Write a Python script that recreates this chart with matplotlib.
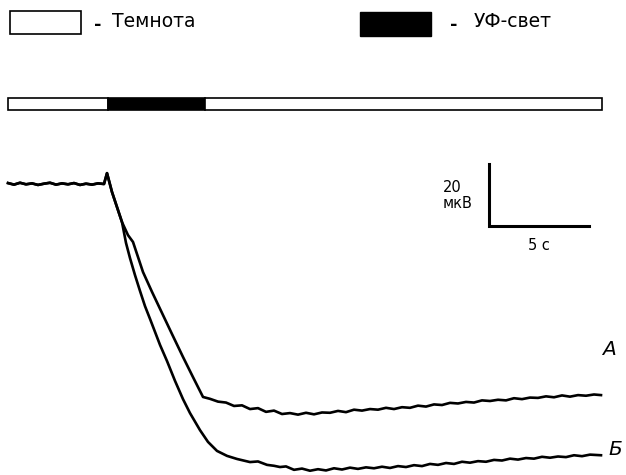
import matplotlib
matplotlib.use("Agg")
import matplotlib.pyplot as plt
from matplotlib.patches import Rectangle

plt.rcParams['font.family'] = ['DejaVu Sans']

# baseline before the light goes on (shared by both traces), t in s, value in мкВ
base_t = [0.0, 0.3, 0.6, 0.9, 1.2, 1.5, 1.8, 2.1, 2.4, 2.7, 3.0, 3.3, 3.6, 3.9, 4.2, 4.5, 4.8,
          4.95, 5.2, 5.7]
base_uv = [0.3, -0.2, 0.4, -0.1, 0.2, -0.3, 0.1, 0.4, -0.2, 0.2, -0.1, 0.3, -0.3, 0.1, -0.2, 0.2, 0.0,
           3.5, -2.6, -12.3]

# trace A after the split
a_t = [6.0, 6.25, 6.75, 7.2, 7.7, 8.2, 8.75, 9.25, 9.75,
       10.1, 10.5, 10.9, 11.3, 11.7, 12.1, 12.5, 12.9, 13.3, 13.7, 14.1, 14.5, 14.9, 15.3,
       15.7, 16.1, 16.5, 16.9, 17.3, 17.7, 18.1, 18.5, 18.9, 19.3, 19.7, 20.1, 20.5, 20.9,
       21.3, 21.7, 22.1, 22.5, 22.9, 23.3, 23.7, 24.1, 24.5, 24.9, 25.3, 25.7, 26.1, 26.5,
       26.9, 27.3, 27.7, 28.1, 28.5, 28.9, 29.3, 29.65]
a_uv = [-16.5, -18.7, -28.4, -34.8, -41.6, -48.4, -55.8, -62.3, -68.7,
        -69.3, -70.2, -70.5, -71.6, -71.4, -72.6, -72.3, -73.5, -73.1, -74.2, -73.9, -74.4, -73.8, -74.3,
        -73.7, -73.8, -73.2, -73.6, -72.8, -73.1, -72.6, -72.8, -72.2, -72.6, -72.0, -72.2, -71.5, -71.8,
        -71.1, -71.3, -70.6, -70.8, -70.3, -70.5, -69.8, -70.0, -69.6, -69.8, -69.1, -69.4, -68.9, -69.0,
        -68.5, -68.8, -68.2, -68.6, -68.1, -68.3, -67.9, -68.1]

# trace Б after the split
b_t = [5.9, 6.1, 6.35, 6.6, 6.85, 7.1, 7.35, 7.6, 7.95, 8.35, 8.75, 9.1, 9.6, 10.0, 10.45,
       10.95, 11.45, 12.1, 12.5, 12.95, 13.3, 13.6, 13.9, 14.3, 14.7, 15.1, 15.5, 15.9, 16.3,
       16.7, 17.1, 17.5, 17.9, 18.3, 18.7, 19.1, 19.5, 19.9, 20.3, 20.7, 21.1, 21.5, 21.9,
       22.3, 22.7, 23.1, 23.5, 23.9, 24.3, 24.7, 25.1, 25.5, 25.9, 26.3, 26.7, 27.1, 27.5,
       27.9, 28.3, 28.7, 29.1, 29.65]
b_uv = [-19.0, -23.9, -29.4, -34.5, -39.4, -43.5, -47.7, -51.9, -57.1, -63.5, -69.4, -73.9, -79.4,
        -83.2, -86.1, -87.7, -88.7, -89.7, -89.5, -90.6, -90.9, -91.3, -91.1, -92.2, -91.8, -92.5,
        -92.0, -92.4, -91.7, -92.1, -91.5, -91.9, -91.4, -91.7, -91.2, -91.6, -91.0, -91.3, -90.7,
        -91.0, -90.3, -90.6, -90.0, -90.3, -89.6, -89.9, -89.4, -89.6, -89.0, -89.2, -88.6, -88.9,
        -88.4, -88.6, -88.0, -88.3, -87.9, -88.1, -87.5, -87.8, -87.3, -87.5]

# stimulation protocol
stim_start = [0.0, 5.0, 9.85]
stim_end = [5.0, 9.85, 29.7]
stim_uv = [False, True, False]

scale_t = 5      # s
scale_uv = 20    # мкВ

W, H = 626, 475
fig = plt.figure(figsize=(W / 100, H / 100), dpi=100)
ax = fig.add_axes([0, 0, 1, 1])
# 1 s = 20 px, 1 мкВ = 3.1 px, zero at (8, 184)
ax.set_xlim(-8 / 20, (W - 8) / 20)
ax.set_ylim((184 - H) / 3.1, 184 / 3.1)
ax.axis("off")


def fx(x):
    return x / W


def fy(y):
    return 1 - y / H


# legend boxes
ax.add_patch(Rectangle((fx(10), fy(34)), fx(71), 23 / H, transform=ax.transAxes,
                       facecolor="white", edgecolor="black", lw=1.2))
ax.text(fx(94), fy(30), "-", transform=ax.transAxes, fontsize=13, fontweight="bold", va="baseline")
ax.text(fx(112), fy(27), "Темнота", transform=ax.transAxes, fontsize=13.5, va="baseline")
ax.add_patch(Rectangle((fx(360), fy(36)), fx(71), 24 / H, transform=ax.transAxes,
                       facecolor="black", edgecolor="black", lw=1))
ax.text(fx(450), fy(30), "-", transform=ax.transAxes, fontsize=13, fontweight="bold", va="baseline")
ax.text(fx(474), fy(27), "УФ-свет", transform=ax.transAxes, fontsize=13.5, va="baseline")

# stimulation bar
bar_lo, bar_hi = (184 - 110) / 3.1, (184 - 98) / 3.1
for s, e, uv in zip(stim_start, stim_end, stim_uv):
    ax.add_patch(Rectangle((s, bar_lo), e - s, bar_hi - bar_lo,
                           facecolor="black" if uv else "white", edgecolor="black", lw=1.2))

# traces
ax.plot(base_t + a_t, base_uv + a_uv, color="black", lw=1.9, solid_joinstyle="round")
ax.plot(base_t + b_t, base_uv + b_uv, color="black", lw=1.9, solid_joinstyle="round")
ax.text(30.05, -53.5, "А", fontsize=14.5, style="italic", ha="center", va="center")
ax.text(30.35, -85.8, "Б", fontsize=14.5, style="italic", ha="center", va="center")

# scale bar
t0, v0 = 24.05, -13.55
ax.plot([t0, t0, t0 + scale_t], [v0 + scale_uv, v0, v0], color="black", lw=2.2,
        solid_joinstyle="miter")
ax.text(fx(443), fy(192), f"{scale_uv}", transform=ax.transAxes, fontsize=10.5, va="baseline")
ax.text(fx(443), fy(208), "мкВ", transform=ax.transAxes, fontsize=10.5, va="baseline")
ax.text(t0 + scale_t / 2, v0 - 6.2, f"{scale_t} с", fontsize=10.5, ha="center", va="center")

fig.savefig("out.png", dpi=100)
